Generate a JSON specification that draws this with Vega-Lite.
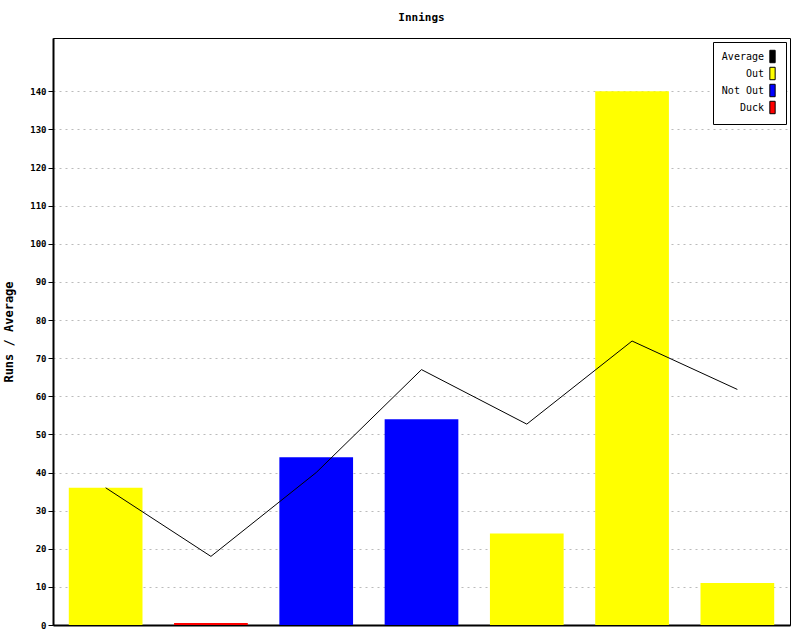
{
  "$schema": "https://vega.github.io/schema/vega-lite/v6.json",
  "width": 737,
  "height": 587,
  "autosize": {"type": "none"},
  "padding": {"left": 53, "top": 38, "right": 10, "bottom": 15},
  "background": "white",
  "title": {"text": "Innings", "font": "DejaVu Sans Mono", "fontSize": 11, "fontWeight": "bold", "offset": 15, "color": "black"},
  "data": {"values": [
    {"inn": 1, "runs": 36, "status": "Out", "avg": 36, "avgLabel": "Average"},
    {"inn": 2, "runs": 0.5, "status": "Duck", "avg": 18, "avgLabel": "Average"},
    {"inn": 3, "runs": 44, "status": "Not Out", "avg": 40, "avgLabel": "Average"},
    {"inn": 4, "runs": 54, "status": "Not Out", "avg": 67, "avgLabel": "Average"},
    {"inn": 5, "runs": 24, "status": "Out", "avg": 52.7, "avgLabel": "Average"},
    {"inn": 6, "runs": 140, "status": "Out", "avg": 74.5, "avgLabel": "Average"},
    {"inn": 7, "runs": 11, "status": "Out", "avg": 61.8, "avgLabel": "Average"}
  ]},
  "encoding": {
    "x": {"field": "inn", "type": "ordinal", "scale": {"paddingInner": 0.3, "paddingOuter": 0.15},
      "axis": {"title": null, "labels": false, "ticks": false, "domainColor": "black", "domainWidth": 2}}
  },
  "layer": [
    {
      "mark": {"type": "bar"},
      "encoding": {
        "y": {"field": "runs", "type": "quantitative", "scale": {"domain": [0, 154], "nice": false},
          "axis": {"title": "Runs / Average", "values": [0,10,20,30,40,50,60,70,80,90,100,110,120,130,140],
            "grid": true, "gridDash": [2, 4], "gridColor": "#bbbbbb", "domainColor": "black", "domainWidth": 2,
            "tickColor": "black", "tickSize": 5, "labelFont": "DejaVu Sans Mono", "labelFontSize": 9, "labelFontWeight": "bold", "labelColor": "black",
            "titleFont": "DejaVu Sans Mono", "titleFontSize": 12, "titleFontWeight": "bold", "titleColor": "black", "titlePadding": 14}},
        "color": {"field": "status", "type": "nominal",
          "scale": {"domain": ["Average", "Out", "Not Out", "Duck"], "range": ["#000000", "#ffff00", "#0000ff", "#ff0000"]},
          "legend": {"title": null, "orient": "top-right", "offset": 4, "fillColor": "white", "strokeColor": "black", "padding": 8,
            "symbolType": "M-0.45,-1.05V1.05H0.45V-1.05Z", "symbolSize": 140, "symbolStrokeColor": "black", "symbolStrokeWidth": 1, "symbolOpacity": 1,
            "symbolOffset": 45, "labelFont": "DejaVu Sans Mono", "labelFontSize": 10, "labelColor": "black", "labelAlign": "right", "labelOffset": -15, "rowPadding": 0}}
      }
    },
    {
      "mark": {"type": "line", "color": "black", "strokeWidth": 1},
      "encoding": {
        "y": {"field": "avg", "type": "quantitative"}
      }
    }
  ],
  "config": {"view": {"stroke": "black", "strokeWidth": 1}}
}
